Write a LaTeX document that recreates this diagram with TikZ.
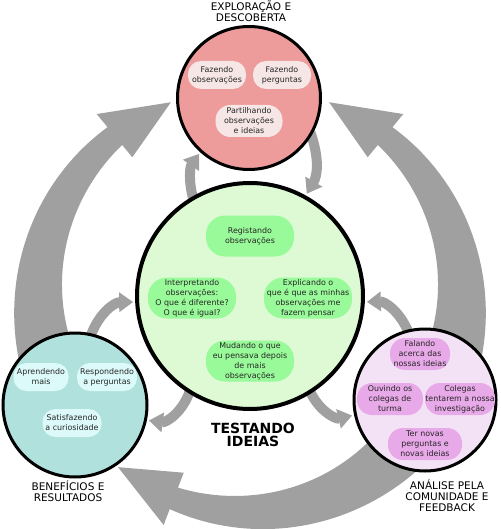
\documentclass[tikz,border=0pt]{standalone}
\usepackage{fontspec}
\setmainfont{DejaVu Sans}
\usetikzlibrary{arrows.meta,backgrounds}
\definecolor{pinkc}{HTML}{EE9B9B}
\definecolor{pinkp}{HTML}{F6E6E6}
\definecolor{greenc}{HTML}{DEFAD4}
\definecolor{greenp}{HTML}{99FA99}
\definecolor{tealc}{HTML}{B1E1DD}
\definecolor{tealp}{HTML}{DDFAFA}
\definecolor{purpc}{HTML}{F3E2F5}
\definecolor{purpp}{HTML}{E8A9E8}
\definecolor{arrowgray}{HTML}{A0A0A0}
\newcommand\pillfont{\fontsize{7.9}{10}\selectfont}
\newcommand\ttlfont{\fontsize{10.5}{11}\selectfont}
\newcommand\bigttlfont{\fontsize{14}{13.5}\selectfont\bfseries}
\newcommand\ringarrow[3]{%
 \fill[arrowgray] plot[domain=#1:#2,samples=60] ({250+(240-16*(\x-#1)/(#2-#1))*cos(\x)},{300+(240-16*(\x-#1)/(#2-#1))*sin(\x)})
 -- ({250+241*cos(#2)},{300+241*sin(#2)})
 -- ({250+213*cos(#3)},{300+213*sin(#3)})
 -- ({250+185*cos(#2)},{300+185*sin(#2)})
 -- plot[domain=#2:#1,samples=60] ({250+(182+19*(\x-#1)/(#2-#1))*cos(\x)},{300+(182+19*(\x-#1)/(#2-#1))*sin(\x)})
 -- cycle;}
\begin{document}
\begin{tikzpicture}[x=1pt,y=-1pt,
  circ/.style={circle, draw=black, line width=3pt, inner sep=0pt},
  pill/.style={rectangle, inner sep=0pt, align=center, font=\pillfont, text=black!85},
  pS/.style={pill, minimum height=28pt, rounded corners=13pt},
  pM/.style={pill, minimum height=32pt, rounded corners=15pt},
  pL/.style={pill, minimum height=41pt, rounded corners=19pt},
  ttl/.style={align=center, font=\ttlfont, inner sep=0pt},
  smallarrow/.style={draw=arrowgray, line width=10pt, -{Triangle[length=14pt,width=19pt]}, shorten <=-4pt, shorten >=2pt}]
\useasboundingbox (0,0) rectangle (500,529);
% circles
\node[circ, fill=pinkc, minimum size=143pt] (pink) at (249,98) {};
\node[circ, fill=greenc, line width=4pt, minimum size=226pt] (green) at (250,296) {};
\node[circ, fill=tealc, minimum size=144pt] (teal) at (75,405) {};
\node[circ, fill=purpc, minimum size=142pt] (purple) at (425,400) {};
% pink pills
\node[pS, fill=pinkp, minimum width=58pt] (p1) at (217,75) {Fazendo\\observações};
\node[pS, fill=pinkp, minimum width=58pt] (p2) at (282,75) {Fazendo\\perguntas};
\node[pM, fill=pinkp, minimum width=67pt] (p3) at (249,121) {Partilhando\\observações\\e ideias};
% green pills
\node[pL, fill=greenp, minimum width=88pt] (g1) at (250,236) {Registando\\observações};
\node[pL, fill=greenp, minimum width=88pt] (g2) at (192,298) {Interpretando\\observações:\\O que é diferente?\\O que é igual?};
\node[pL, fill=greenp, minimum width=88pt] (g3) at (308,298) {Explicando o\\que é que as minhas\\observações me\\fazem pensar};
\node[pL, fill=greenp, minimum width=88pt] (g4) at (250,361) {Mudando o que\\eu pensava depois\\de mais\\observações};
% teal pills
\node[pS, fill=tealp, minimum width=55pt] (t1) at (41,377) {Aprendendo\\mais};
\node[pS, fill=tealp, minimum width=60pt] (t2) at (107,377) {Respondendo\\a perguntas};
\node[pS, fill=tealp, minimum width=59pt] (t3) at (72,423) {Satisfazendo\\a curiosidade};
% purple pills
\node[pM, fill=purpp, minimum width=60pt] (u1) at (420,354) {Falando\\acerca das\\nossas ideias};
\node[pM, fill=purpp, minimum width=66pt] (u2) at (390,399) {Ouvindo os\\colegas de\\turma};
\node[pM, fill=purpp, minimum width=70pt] (u3) at (460,399) {Colegas\\tentarem a nossa\\investigação};
\node[pM, fill=purpp, minimum width=74pt] (u4) at (425,444) {Ter novas\\perguntas e\\novas ideias};
% titles
\node[ttl] (ttop) at (251,11) {EXPLORAÇÃO E\\DESCOBERTA};
\node[ttl] (tleft) at (68,491) {BENEFÍCIOS E\\RESULTADOS};
\node[ttl] (tright) at (447,496) {ANÁLISE PELA\\COMUNIDADE E\\FEEDBACK};
\node[align=center, font=\bigttlfont, inner sep=0pt] (tmid) at (253,435) {TESTANDO\\IDEIAS};
% arrows
\begin{scope}[on background layer]
 \ringarrow{160}{230.5}{248.2}
 \ringarrow{40}{111}{128.3}
 \ringarrow{20}{-50.5}{-68.2}
 \draw[smallarrow] (green.120) to[bend left=25] (pink.228);
 \draw[smallarrow] (pink.-31) to[bend left=25] (green.61);
 \draw[smallarrow] (teal.77) to[bend left=35] (green.183);
 \draw[smallarrow] (purple.104) to[bend right=35] (green.-3);
 \draw[smallarrow] (green.238) to[bend left=40] (teal.-12);
 \draw[smallarrow] (green.-58) to[bend right=40] (purple.192);
\end{scope}
\end{tikzpicture}
\end{document}
